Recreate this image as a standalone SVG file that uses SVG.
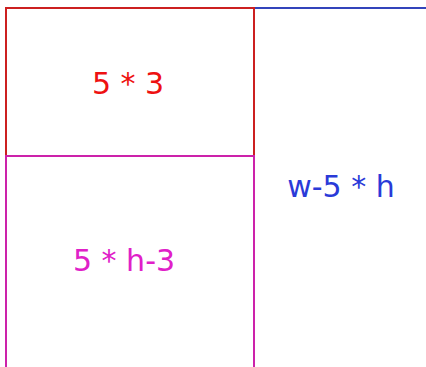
<svg xmlns="http://www.w3.org/2000/svg" width="426" height="367" viewBox="0 0 426 367">
<style>
rect{fill:none;stroke-width:2}
text{font-family:"DejaVu Sans",sans-serif;font-size:30px;text-anchor:middle;dominant-baseline:central}
</style>
<rect width="426" height="367" fill="#fff" style="fill:#fff;stroke:none"/>
<g id="blue">
<rect x="254" y="8" width="180" height="366" stroke="#3344bb"/>
<text x="341" y="186" fill="#2a3ad8">w-5 * h</text>
</g>
<g id="red">
<rect x="6" y="8" width="248" height="148" stroke="#cc2020"/>
<text x="128" y="83" fill="#ee1111">5 * 3</text>
</g>
<g id="magenta">
<rect x="6" y="156" width="248" height="215" stroke="#cc22aa"/>
<text x="124" y="260" fill="#e020c8">5 * h-3</text>
</g>
<g id="connectors"/>
</svg>
